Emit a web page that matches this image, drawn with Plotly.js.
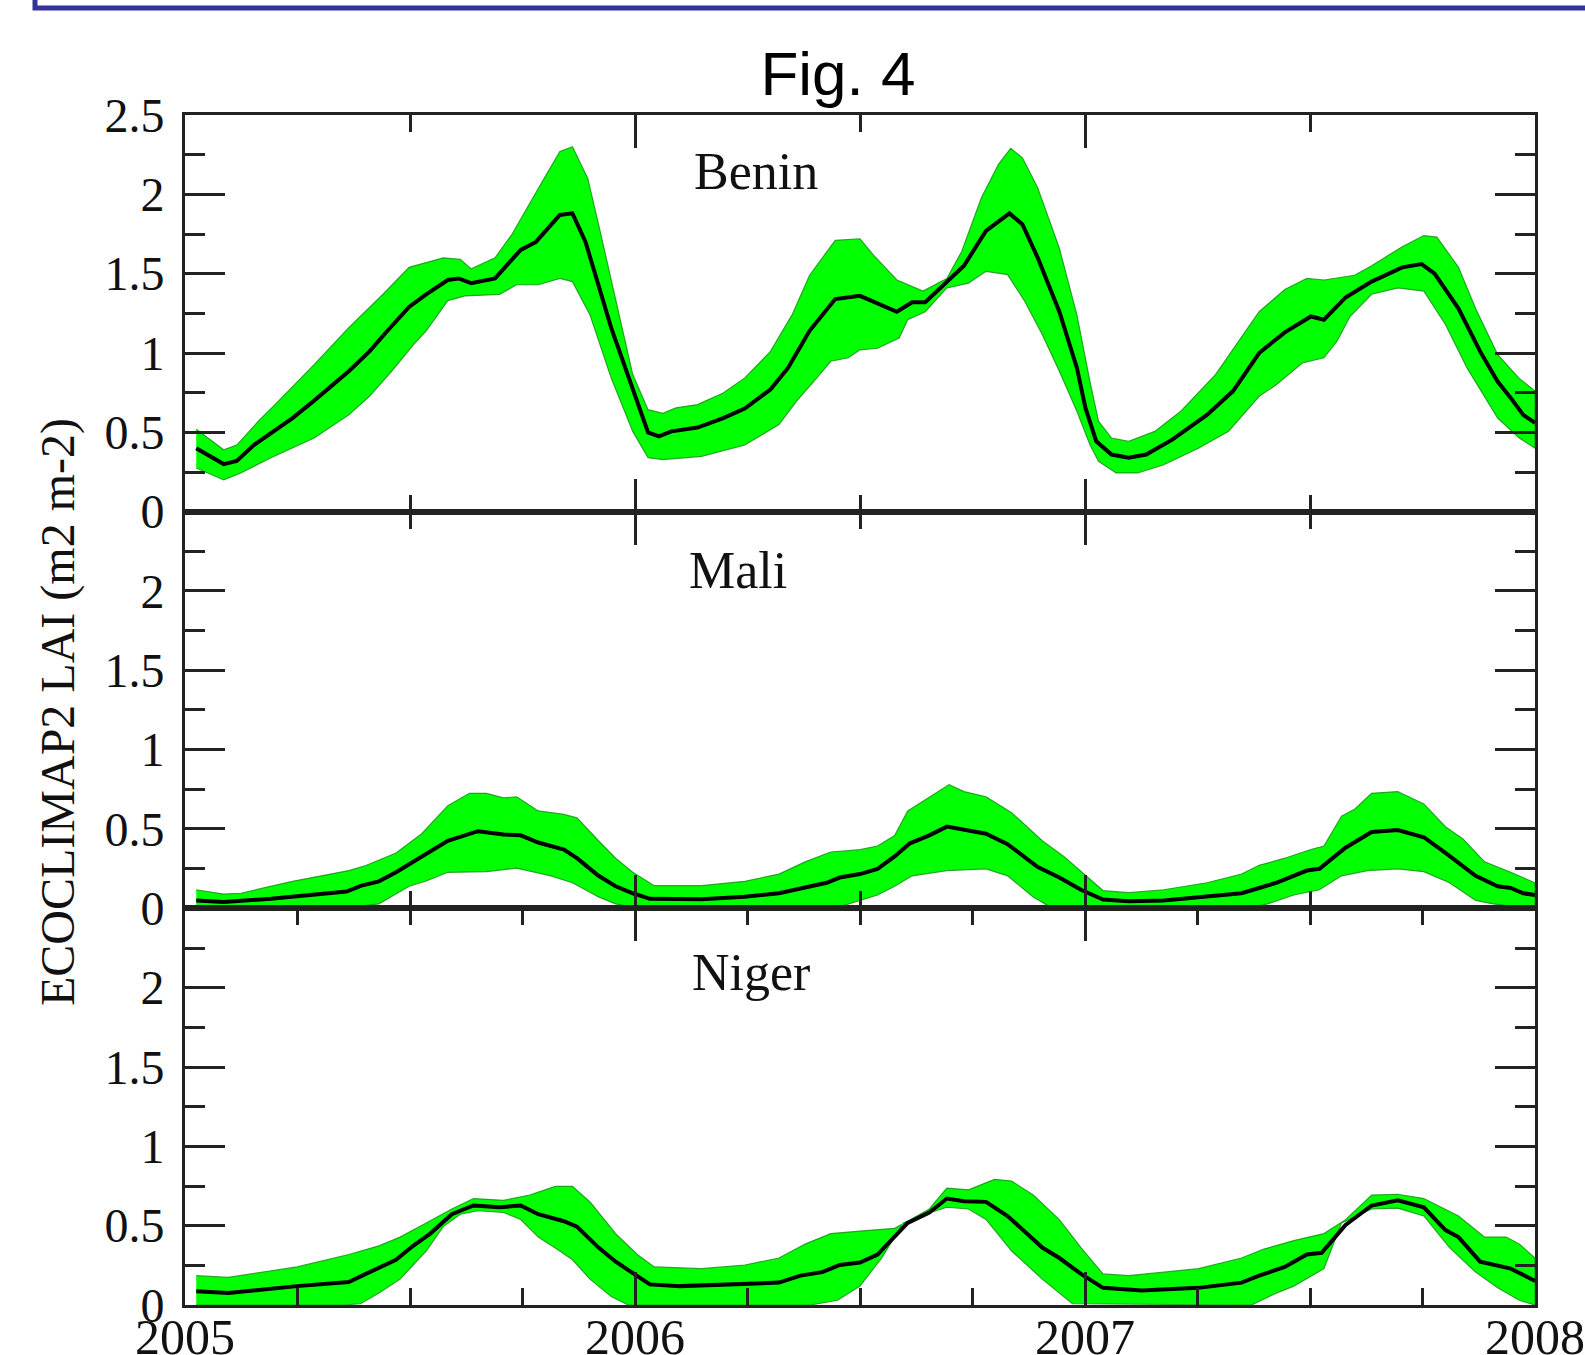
<!DOCTYPE html>
<html>
<head>
<meta charset="utf-8">
<script src="https://cdn.plot.ly/plotly-3.0.1.min.js"></script>
<style>html,body{margin:0;padding:0;background:#fff;}#chart{width:1585px;height:1355px;}</style>
</head>
<body>
<div id="chart"></div>
<script>
// ---------- tick labels ----------
const yTicksTop = [0, 0.5, 1, 1.5, 2, 2.5];
const yTickTextTop = ['0', '0.5', '1', '1.5', '2', '2.5'];
const yTicksLow = [0, 0.5, 1, 1.5, 2];
const yTickTextLow = ['0', '0.5', '1', '1.5', '2'];
const xTickYears = [2005, 2006, 2007, 2008];
const xTickText = ['2005', '2006', '2007', '2008'];
const panelNames = ['Benin', 'Mali', 'Niger'];

// ---------- Benin ----------
const beninMeanX = [2005.025,2005.086,2005.115,2005.153,2005.239,2005.287,2005.364,2005.41,2005.45,2005.498,2005.536,2005.584,2005.608,2005.636,2005.689,2005.746,2005.78,2005.833,2005.861,2005.89,2005.947,2006.029,2006.053,2006.081,2006.139,2006.196,2006.244,2006.301,2006.34,2006.388,2006.445,2006.5,2006.582,2006.616,2006.645,2006.693,2006.731,2006.78,2006.832,2006.861,2006.895,2006.943,2006.982,2007.001,2007.025,2007.059,2007.097,2007.136,2007.194,2007.271,2007.329,2007.387,2007.444,2007.502,2007.531,2007.579,2007.637,2007.705,2007.748,2007.777,2007.83,2007.878,2007.917,2007.946,2007.974,2008.0];
const beninMean = [0.40,0.30,0.32,0.42,0.59,0.70,0.885,1.01,1.14,1.29,1.37,1.46,1.47,1.44,1.47,1.65,1.70,1.87,1.88,1.70,1.16,0.50,0.475,0.506,0.53,0.59,0.65,0.77,0.906,1.14,1.34,1.36,1.26,1.32,1.32,1.45,1.55,1.77,1.88,1.81,1.60,1.26,0.906,0.654,0.443,0.36,0.34,0.36,0.454,0.61,0.76,1.00,1.13,1.23,1.21,1.35,1.45,1.54,1.56,1.50,1.28,1.01,0.82,0.717,0.61,0.56];
const beninUpperX = [2005.025,2005.086,2005.115,2005.163,2005.2,2005.287,2005.364,2005.44,2005.498,2005.574,2005.612,2005.636,2005.689,2005.727,2005.794,2005.833,2005.861,2005.895,2005.919,2005.957,2005.995,2006.029,2006.062,2006.091,2006.139,2006.196,2006.244,2006.301,2006.349,2006.388,2006.445,2006.5,2006.529,2006.582,2006.64,2006.693,2006.726,2006.77,2006.808,2006.835,2006.861,2006.895,2006.943,2006.982,2007.011,2007.03,2007.059,2007.097,2007.155,2007.213,2007.29,2007.387,2007.444,2007.493,2007.531,2007.599,2007.637,2007.705,2007.753,2007.782,2007.83,2007.868,2007.917,2007.965,2008.0];
const beninUpper = [0.52,0.39,0.42,0.57,0.675,0.927,1.16,1.37,1.54,1.60,1.59,1.53,1.60,1.75,2.08,2.27,2.30,2.10,1.81,1.33,0.864,0.643,0.62,0.654,0.675,0.748,0.843,1.01,1.24,1.49,1.71,1.72,1.62,1.46,1.39,1.47,1.64,1.98,2.19,2.29,2.23,2.04,1.66,1.24,0.82,0.57,0.464,0.443,0.506,0.633,0.864,1.26,1.40,1.47,1.46,1.49,1.55,1.67,1.74,1.73,1.54,1.28,0.99,0.84,0.76];
const beninLowerX = [2005.025,2005.086,2005.124,2005.191,2005.287,2005.364,2005.41,2005.459,2005.507,2005.536,2005.584,2005.622,2005.699,2005.737,2005.785,2005.833,2005.861,2005.9,2005.947,2005.995,2006.029,2006.062,2006.148,2006.244,2006.32,2006.359,2006.397,2006.435,2006.474,2006.5,2006.539,2006.587,2006.606,2006.645,2006.693,2006.741,2006.78,2006.828,2006.866,2006.905,2006.943,2006.982,2007.011,2007.03,2007.069,2007.117,2007.175,2007.252,2007.319,2007.387,2007.425,2007.483,2007.531,2007.56,2007.589,2007.637,2007.695,2007.753,2007.801,2007.849,2007.917,2007.965,2008.0];
const beninLower = [0.275,0.20,0.244,0.34,0.464,0.61,0.727,0.885,1.05,1.14,1.33,1.36,1.37,1.43,1.43,1.47,1.45,1.24,0.843,0.506,0.34,0.328,0.349,0.42,0.549,0.696,0.82,0.948,0.97,1.02,1.03,1.095,1.21,1.26,1.41,1.44,1.515,1.494,1.326,1.116,0.885,0.633,0.422,0.317,0.244,0.244,0.296,0.40,0.506,0.727,0.80,0.937,0.97,1.074,1.23,1.37,1.41,1.39,1.18,0.906,0.59,0.464,0.40];

// ---------- Mali ----------
const maliMeanX = [2005.025,2005.086,2005.191,2005.287,2005.359,2005.392,2005.431,2005.469,2005.507,2005.536,2005.584,2005.651,2005.708,2005.746,2005.785,2005.842,2005.871,2005.919,2005.957,2005.995,2006.033,2006.148,2006.244,2006.32,2006.378,2006.426,2006.455,2006.5,2006.539,2006.577,2006.611,2006.654,2006.693,2006.731,2006.78,2006.828,2006.895,2006.943,2006.991,2007.04,2007.097,2007.175,2007.271,2007.348,2007.387,2007.425,2007.493,2007.521,2007.579,2007.637,2007.695,2007.753,2007.801,2007.868,2007.917,2007.946,2007.974,2008.0];
const maliMean = [0.05,0.04,0.06,0.084,0.106,0.143,0.17,0.227,0.293,0.338,0.426,0.486,0.466,0.46,0.415,0.37,0.316,0.205,0.139,0.095,0.06,0.057,0.073,0.095,0.128,0.161,0.194,0.216,0.249,0.327,0.41,0.46,0.515,0.493,0.47,0.404,0.26,0.194,0.117,0.055,0.044,0.05,0.073,0.095,0.128,0.161,0.238,0.249,0.382,0.481,0.493,0.448,0.349,0.205,0.139,0.128,0.095,0.084];
const maliUpperX = [2005.025,2005.086,2005.124,2005.239,2005.364,2005.402,2005.469,2005.526,2005.584,2005.632,2005.67,2005.708,2005.737,2005.785,2005.842,2005.871,2005.919,2005.957,2005.995,2006.043,2006.148,2006.244,2006.32,2006.378,2006.435,2006.5,2006.539,2006.577,2006.606,2006.654,2006.698,2006.731,2006.78,2006.837,2006.905,2006.953,2007.001,2007.04,2007.097,2007.175,2007.271,2007.348,2007.387,2007.444,2007.502,2007.531,2007.57,2007.599,2007.637,2007.695,2007.753,2007.801,2007.84,2007.888,2007.946,2008.0];
const maliUpper = [0.117,0.09,0.095,0.17,0.238,0.27,0.349,0.47,0.647,0.725,0.725,0.696,0.703,0.614,0.592,0.57,0.426,0.316,0.227,0.143,0.143,0.17,0.216,0.293,0.355,0.37,0.393,0.459,0.614,0.703,0.78,0.736,0.703,0.603,0.426,0.327,0.205,0.112,0.099,0.117,0.161,0.216,0.271,0.316,0.371,0.393,0.58,0.625,0.725,0.736,0.658,0.514,0.437,0.293,0.227,0.161];
const maliLowerX = [2005.025,2005.086,2005.2,2005.364,2005.431,2005.498,2005.536,2005.584,2005.67,2005.737,2005.813,2005.861,2005.919,2005.957,2005.995,2006.45,2006.5,2006.539,2006.577,2006.616,2006.693,2006.78,2006.828,2006.885,2006.924,2007.367,2007.406,2007.464,2007.521,2007.57,2007.628,2007.695,2007.753,2007.81,2007.868,2007.907,2007.97,2008.0];
const maliLower = [0.017,0.01,0.006,0.006,0.028,0.139,0.172,0.227,0.231,0.253,0.205,0.161,0.072,0.028,0.006,0.006,0.05,0.084,0.139,0.205,0.238,0.249,0.205,0.072,0.006,0.006,0.028,0.084,0.117,0.205,0.238,0.249,0.231,0.161,0.05,0.028,0.006,0.006];

// ---------- Niger ----------
const nigerMeanX = [2005.025,2005.096,2005.249,2005.364,2005.402,2005.469,2005.507,2005.545,2005.593,2005.641,2005.699,2005.746,2005.785,2005.842,2005.871,2005.919,2005.957,2006.005,2006.033,2006.1,2006.244,2006.32,2006.368,2006.416,2006.455,2006.5,2006.539,2006.606,2006.654,2006.693,2006.731,2006.78,2006.828,2006.905,2006.943,2006.991,2007.04,2007.126,2007.252,2007.348,2007.387,2007.444,2007.493,2007.526,2007.579,2007.637,2007.695,2007.753,2007.801,2007.83,2007.878,2007.946,2008.0];
const nigerMean = [0.086,0.075,0.119,0.145,0.196,0.285,0.373,0.45,0.572,0.627,0.616,0.627,0.572,0.528,0.494,0.362,0.273,0.185,0.13,0.119,0.13,0.141,0.185,0.207,0.252,0.268,0.318,0.517,0.583,0.671,0.654,0.65,0.561,0.362,0.296,0.196,0.108,0.092,0.108,0.141,0.185,0.24,0.318,0.329,0.505,0.627,0.66,0.616,0.472,0.428,0.273,0.229,0.152];
const nigerUpperX = [2005.025,2005.096,2005.249,2005.364,2005.431,2005.478,2005.536,2005.593,2005.641,2005.708,2005.766,2005.823,2005.861,2005.9,2005.957,2006.005,2006.043,2006.148,2006.244,2006.32,2006.378,2006.435,2006.5,2006.577,2006.606,2006.654,2006.693,2006.741,2006.799,2006.837,2006.885,2006.943,2006.991,2007.04,2007.097,2007.252,2007.348,2007.396,2007.464,2007.531,2007.579,2007.637,2007.695,2007.753,2007.83,2007.888,2007.936,2007.965,2008.0];
const nigerUpper = [0.185,0.174,0.24,0.318,0.373,0.428,0.517,0.605,0.671,0.66,0.693,0.748,0.748,0.649,0.45,0.318,0.24,0.229,0.252,0.296,0.384,0.45,0.466,0.483,0.527,0.605,0.737,0.726,0.792,0.781,0.693,0.538,0.362,0.196,0.185,0.229,0.296,0.351,0.406,0.45,0.538,0.693,0.698,0.671,0.561,0.428,0.428,0.384,0.296];
const nigerLowerX = [2005.025,2005.35,2005.39,2005.431,2005.478,2005.507,2005.536,2005.574,2005.612,2005.651,2005.708,2005.746,2005.785,2005.833,2005.861,2005.9,2005.947,2005.985,2006.39,2006.45,2006.5,2006.548,2006.596,2006.645,2006.693,2006.741,2006.78,2006.837,2006.905,2006.943,2006.972,2007.37,2007.425,2007.464,2007.531,2007.57,2007.637,2007.695,2007.753,2007.81,2007.868,2007.917,2007.965,2008.0];
const nigerLower = [0.0,0.0,0.008,0.075,0.163,0.252,0.34,0.494,0.572,0.594,0.583,0.539,0.428,0.34,0.285,0.163,0.053,0.0,0.0,0.03,0.12,0.296,0.517,0.572,0.616,0.605,0.539,0.34,0.163,0.075,0.008,0.0,0.075,0.119,0.229,0.517,0.605,0.61,0.561,0.362,0.207,0.108,0.03,0.0];

// ---------- build traces ----------
const panels = [
  {xa: 'x', ya: 'y', mx: beninMeanX, m: beninMean, ux: beninUpperX, u: beninUpper, lx: beninLowerX, l: beninLower},
  {xa: 'x2', ya: 'y2', mx: maliMeanX, m: maliMean, ux: maliUpperX, u: maliUpper, lx: maliLowerX, l: maliLower},
  {xa: 'x3', ya: 'y3', mx: nigerMeanX, m: nigerMean, ux: nigerUpperX, u: nigerUpper, lx: nigerLowerX, l: nigerLower}
];
const traces = [];
panels.forEach(p => {
  traces.push({
    type: 'scatter', mode: 'lines', xaxis: p.xa, yaxis: p.ya,
    x: p.ux.concat(p.lx.slice().reverse()),
    y: p.u.concat(p.l.slice().reverse()),
    fill: 'toself', fillcolor: '#00ff00',
    line: {color: 'rgba(20,150,20,0.85)', width: 1.2},
    hoverinfo: 'skip'
  });
  traces.push({
    type: 'scatter', mode: 'lines', xaxis: p.xa, yaxis: p.ya,
    x: p.mx, y: p.m,
    line: {color: '#000000', width: 4},
    hoverinfo: 'skip'
  });
});

const axCol = '#222222';
const serif = 'Liberation Serif, Times New Roman, serif';
function xAxis(anchor, minorD, labels) {
  return {
    domain: [0, 1], anchor: anchor, range: [2005, 2008],
    showline: true, linecolor: axCol, linewidth: 3, mirror: 'allticks',
    ticks: 'inside', ticklen: 33, tickwidth: 3, tickcolor: axCol,
    tickmode: 'array', tickvals: xTickYears, ticktext: xTickText,
    showticklabels: labels, showgrid: false, zeroline: false,
    tickfont: {family: serif, size: 50, color: '#111'},
    ticklabelstandoff: -14,
    minor: {dtick: minorD, tick0: 2005, ticks: 'inside', ticklen: 17, tickwidth: 3, tickcolor: axCol, showgrid: false}
  };
}
function yAxis(anchor, dom, vals, txt) {
  return {
    domain: dom, anchor: anchor, range: [0, 2.5],
    showline: true, linecolor: axCol, linewidth: 3, mirror: 'allticks',
    ticks: 'inside', ticklen: 40, tickwidth: 3, tickcolor: axCol,
    tickmode: 'array', tickvals: vals, ticktext: txt,
    showgrid: false, zeroline: false,
    tickfont: {family: serif, size: 48, color: '#111'},
    ticklabelstandoff: 8,
    minor: {dtick: 0.25, tick0: 0, ticks: 'inside', ticklen: 20, tickwidth: 3, tickcolor: axCol, showgrid: false}
  };
}

const W = 1350, H = 1190, L = 185, T = 115;
function px(xp) { return (xp - L) / W; }
function py(yp) { return (T + H - yp) / H; }

const layout = {
  width: 1585, height: 1355,
  margin: {l: 185, r: 50, t: 115, b: 50},
  paper_bgcolor: '#ffffff', plot_bgcolor: '#ffffff',
  showlegend: false,
  title: {text: 'Fig. 4', font: {family: 'Liberation Sans, Arial, sans-serif', size: 62, color: '#000'},
          x: 838 / 1585, xref: 'container', xanchor: 'center', y: 1 - 73 / 1355, yref: 'container', yanchor: 'middle'},
  xaxis: xAxis('y', 0.5, false),
  xaxis2: Object.assign(xAxis('y2', 0.5, false), {matches: 'x'}),
  xaxis3: Object.assign(xAxis('y3', 0.25, true), {matches: 'x'}),
  yaxis: yAxis('x', [2/3, 1], yTicksTop, yTickTextTop),
  yaxis2: yAxis('x2', [1/3, 2/3], yTicksLow, yTickTextLow),
  yaxis3: yAxis('x3', [0, 1/3], yTicksLow, yTickTextLow),
  annotations: [
    {text: panelNames[0], xref: 'paper', yref: 'paper', x: px(756), y: py(171), xanchor: 'center', yanchor: 'middle', showarrow: false, font: {family: serif, size: 52, color: '#111'}},
    {text: panelNames[1], xref: 'paper', yref: 'paper', x: px(738), y: py(570), xanchor: 'center', yanchor: 'middle', showarrow: false, font: {family: serif, size: 52, color: '#111'}},
    {text: panelNames[2], xref: 'paper', yref: 'paper', x: px(751), y: py(972), xanchor: 'center', yanchor: 'middle', showarrow: false, font: {family: serif, size: 52, color: '#111'}},
    {text: 'ECOCLIMAP2 LAI (m2 m-2)', xref: 'paper', yref: 'paper', x: px(58), y: py(712), xanchor: 'center', yanchor: 'middle', textangle: -90, showarrow: false, font: {family: serif, size: 48, color: '#111'}}
  ],
  shapes: [
    {type: 'rect', xref: 'paper', yref: 'paper', x0: px(35), x1: px(1620), y0: py(8), y1: py(-30),
     line: {color: '#333399', width: 5}, fillcolor: 'rgba(0,0,0,0)', layer: 'above'}
  ]
};

Plotly.newPlot('chart', traces, layout, {staticPlot: true, displayModeBar: false});
</script>
</body>
</html>
